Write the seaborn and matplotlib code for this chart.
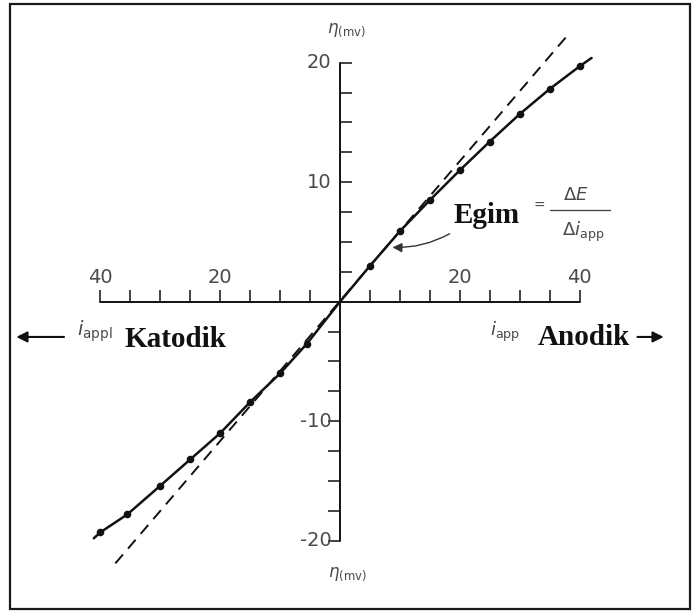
import matplotlib
matplotlib.use("Agg")
import matplotlib.pyplot as plt
import seaborn as sns
import pandas as pd
import numpy as np
from matplotlib.patches import Rectangle

# ---------------- data ----------------
curve_x = [-41.1, -40, -35.5, -30, -25, -20, -15, -10, -5.5, 0, 5, 10, 15, 20, 25, 30, 35, 40, 42]
curve_y = [-19.8, -19.3, -17.8, -15.4, -13.2, -11.0, -8.4, -6.0, -3.5, 0, 3.0, 5.9, 8.5, 11.0, 13.4, 15.7, 17.8, 19.7, 20.4]
point_x = [-40, -35.5, -30, -25, -20, -15, -10, -5.5, 5, 10, 15, 20, 25, 30, 35, 40]
point_y = [-19.3, -17.8, -15.4, -13.2, -11.0, -8.4, -6.0, -3.5, 3.0, 5.9, 8.5, 11.0, 13.4, 15.7, 17.8, 19.7]
tangent_x = [-37.5, 38.0]
tangent_y = [-21.9, 22.3]

x_tick_pos = [-40, -35, -30, -25, -20, -15, -10, -5, 5, 10, 15, 20, 25, 30, 35, 40]
x_label_pos = [-40, -20, 20, 40]
x_labels = ["40", "20", "20", "40"]
y_tick_pos_upper = [2.5, 5, 7.5, 10, 12.5, 15, 17.5, 20]
y_tick_pos_lower = [-2.5, -5, -7.5, -10, -12.5, -15, -17.5, -20]
y_label_pos = [20, 10, -10, -20]
y_labels = ["20", "10", "-10", "-20"]

# ---------------- figure ----------------
sns.set_theme(style="white")
plt.rcParams["font.family"] = ["DejaVu Sans"]
plt.rcParams["mathtext.fontset"] = "dejavusans"

fig = plt.figure(figsize=(7.0, 6.12), dpi=100)
ax = fig.add_axes([0, 0, 1, 1])

ink = "#111111"
gray = "#4a4a4a"

# axes lines
ax.plot([-40, 40], [0, 0], color=ink, lw=1.4, zorder=2)
ax.plot([0, 0], [-20, 20], color=ink, lw=1.4, zorder=2)
# x ticks (upward)
ax.vlines(x_tick_pos, 0, 1.0, color=ink, lw=1.1, zorder=2)
# y ticks: right for positive, left for negative
ax.hlines(y_tick_pos_upper, 0, 2.0, color=ink, lw=1.1, zorder=2)
ax.hlines(y_tick_pos_lower, -2.0, 0, color=ink, lw=1.1, zorder=2)

for xp, lab in zip(x_label_pos, x_labels):
    ax.text(xp, 2.05, lab, ha="center", va="center", fontsize=14, color=gray)
for yp, lab in zip(y_label_pos, y_labels):
    ax.text(-1.4, yp, lab, ha="right", va="center", fontsize=14, color=gray)

# curve, tangent, points
df_curve = pd.DataFrame({"x": curve_x, "y": curve_y})
df_pts = pd.DataFrame({"x": point_x, "y": point_y})
df_tan = pd.DataFrame({"x": tangent_x, "y": tangent_y})
sns.lineplot(data=df_tan, x="x", y="y", ax=ax, color=ink, lw=1.4, sort=False,
             linestyle=(0, (6, 4)), zorder=3)
sns.lineplot(data=df_curve, x="x", y="y", ax=ax, color=ink, lw=1.8, sort=False, zorder=4)
sns.scatterplot(data=df_pts, x="x", y="y", ax=ax, color=ink, s=30, edgecolor=ink,
                linewidth=0, zorder=5)
ax.set_xlim(-56.76, 60.1)
ax.set_ylim(-25.97, 25.25)
ax.axis("off")

# eta labels
ax.text(-2.2, 22.7, r"$\eta_{\rm (mv)}$", ha="left", va="center", fontsize=12, color=gray)
ax.text(-2.0, -22.8, r"$\eta_{\rm (mv)}$", ha="left", va="center", fontsize=12, color=gray)

# Egim annotation
serif = ["Liberation Serif", "DejaVu Serif"]
ax.text(24.5, 7.2, "Egim", ha="center", va="center", fontsize=21, fontweight="bold",
        family=serif, color=ink)
ax.text(33.3, 8.0, "=", ha="center", va="center", fontsize=10, color=gray)
ax.text(39.3, 8.95, r"$\Delta E$", ha="center", va="center", fontsize=13, color=gray)
ax.plot([35.1, 45.1], [7.66, 7.66], color=gray, lw=1.0)
ax.text(40.6, 5.8, r"$\Delta i_{\rm app}$", ha="center", va="center", fontsize=13, color=gray)
ax.annotate("", xy=(8.3, 4.56), xytext=(18.7, 5.8),
            arrowprops=dict(arrowstyle="-|>", color="#333333", lw=1.0, mutation_scale=14,
                            connectionstyle="arc3,rad=-0.15"))

# Katodik / Anodik
ax.annotate("", xy=(-54.5, -2.95), xytext=(-45.6, -2.95),
            arrowprops=dict(arrowstyle="-|>", color=ink, lw=1.5, mutation_scale=16))
ax.text(-43.9, -2.5, r"$i_{\rm appl}$", ha="left", va="center", fontsize=14, color=gray)
ax.text(-35.9, -3.2, "Katodik", ha="left", va="center", fontsize=21, fontweight="bold",
        family=serif, color=ink)
ax.text(25.0, -2.5, r"$i_{\rm app}$", ha="left", va="center", fontsize=13, color=gray)
ax.text(33.0, -3.0, "Anodik", ha="left", va="center", fontsize=21, fontweight="bold",
        family=serif, color=ink)
ax.annotate("", xy=(54.5, -2.95), xytext=(49.2, -2.95),
            arrowprops=dict(arrowstyle="-|>", color=ink, lw=1.5, mutation_scale=16))

# frame
W, H = 700, 612
fig.patches.append(Rectangle((10 / W, (H - 609) / H), (690 - 10) / W, (609 - 4) / H,
                             transform=fig.transFigure, fill=False, edgecolor="#1a1a1a",
                             lw=1.6))

fig.savefig("out.png", dpi=100)
